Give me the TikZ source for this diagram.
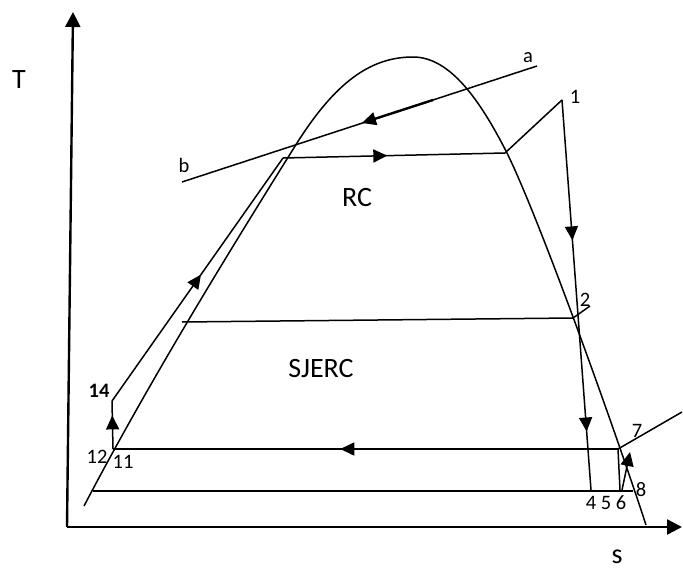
\documentclass[tikz,border=0pt]{standalone}
\usepackage{fontspec}
\setmainfont{Carlito}
\usetikzlibrary{arrows.meta,decorations.markings}
\tikzset{
  big/.style={font=\fontsize{28}{30}\selectfont,inner sep=0pt},
  num/.style={font=\fontsize{20.5}{22}\selectfont,inner sep=0pt},
  tip/.style={-{Triangle[length=14pt,width=13pt]}},
  midarrow/.style={postaction={decorate,decoration={markings,
    mark=at position #1 with {\arrow{Triangle[length=14pt,width=13pt]}}}}},
}
\begin{document}
\begin{tikzpicture}[x=1pt,y=-1pt,line width=1.5pt]
\useasboundingbox (0,0) rectangle (683,570);
% axes
\coordinate (o) at (67,527);
\coordinate (ty) at (73,12);
\coordinate (sx) at (682,527);
\draw[line width=2.4pt,-{Triangle[length=15pt,width=15pt]}] (o) -- (ty);
\draw[line width=2.4pt,-{Triangle[length=15pt,width=15pt]}] (o) -- (sx);
\node[big] (T) at (19,80) {T};
\node[big] (S) at (617,557) {s};
% saturation dome
\draw (84,506) .. controls (150,380) and (230,250) .. (297,143)
  .. controls (335,83) and (370,57) .. (413,57)
  .. controls (450,57) and (480,100) .. (507,153)
  .. controls (540,220) and (615,430) .. (646,525);
% line a-b
\coordinate (a) at (537,66);
\coordinate (b) at (182,182);
\coordinate (ab1) at (433,100);
\coordinate (ab2) at (362,123);
\draw (b) -- (a);
\draw[line width=2.4pt,tip] (ab1) -- (ab2);
\node[num] (la) at (528,58) {a};
\node[num] (lb) at (184,165) {b};
% RC
\coordinate (f) at (283,158);
\coordinate (g) at (505,153);
\coordinate (p1) at (562,100);
\coordinate (p4) at (591,490);
\draw[midarrow=0.47] (f) -- (g);
\draw (g) -- (p1);
\draw[midarrow=0.36,midarrow=0.85] (p1) -- (p4);
\coordinate (q2) at (182,322);
\coordinate (p2) at (573,318);
\coordinate (p2t) at (590,306);
\draw (q2) -- (p2) -- (p2t);
\node[big] (rc) at (357,198) {RC};
% SJERC
\coordinate (p11) at (113,449);
\coordinate (p7) at (618,449);
\coordinate (p7t) at (682,412);
\coordinate (p6) at (620,490);
\coordinate (p5) at (622,490);
\coordinate (p7a) at (630,452);
\coordinate (p14) at (112,401);
\draw[midarrow=0.55] (p7) -- (p11);
\draw (p7t) -- (p7) -- (p6);
\draw[tip] (p5) -- (p7a);
\draw[midarrow=0.7] (p11) -- (p14);
\draw[midarrow=0.52] (p14) -- (f);
\coordinate (q8) at (93,491);
\coordinate (p8) at (633,491);
\draw (q8) -- (p8);
\node[big] (sj) at (321,369) {SJERC};
% state labels
\node[num] (l1) at (575,97) {1};
\node[num] (l2) at (585,300) {2};
\node[num] (l4) at (591,503) {4};
\node[num] (l5) at (606,503) {5};
\node[num] (l6) at (621,503) {6};
\node[num] (l7) at (637,431) {7};
\node[num] (l8) at (641,490) {8};
\node[num] (l14) at (99,391) {\textbf{14}};
\node[num] (l12) at (97,457) {12};
\node[num] (l11) at (123,462) {11};
\end{tikzpicture}
\end{document}
